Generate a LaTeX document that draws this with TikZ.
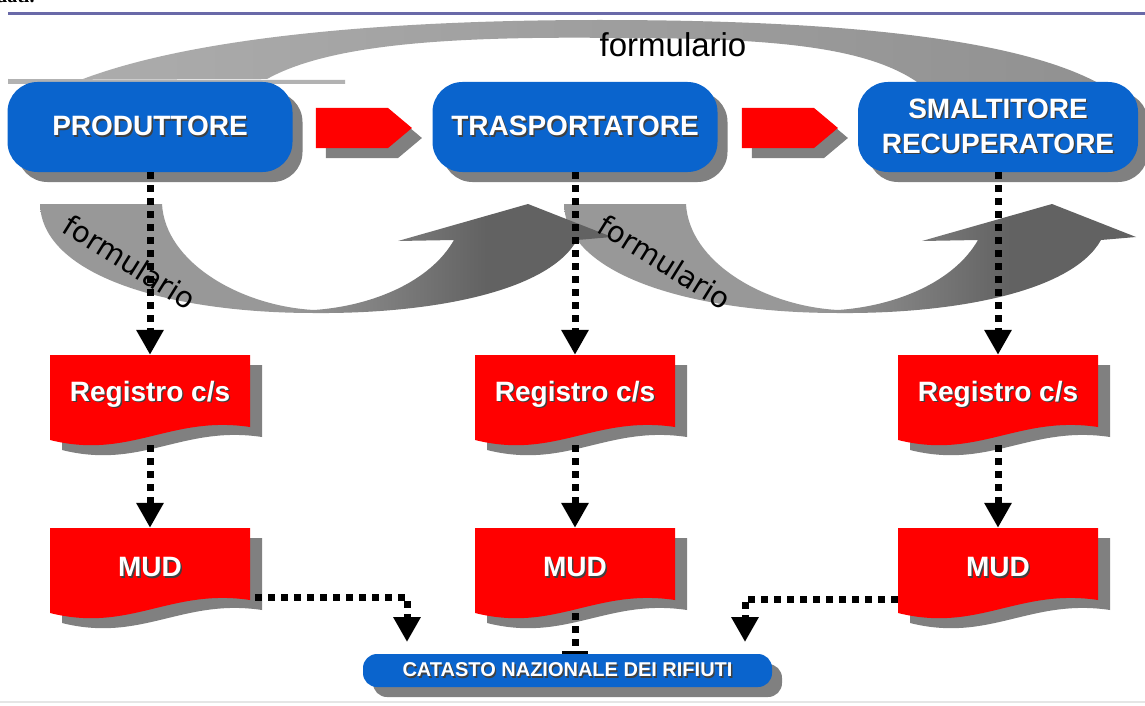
\documentclass[tikz,border=0pt]{standalone}
\usepackage{fontspec}
\setmainfont{Liberation Sans}
\newfontfamily\serifdati{Liberation Serif}
\newfontfamily\dejavu{DejaVu Sans}
\usetikzlibrary{arrows.meta,shadows,calc,shapes.symbols}
\definecolor{boxblue}{RGB}{10,100,205}
\definecolor{shgray}{RGB}{128,128,128}
\definecolor{rulecol}{RGB}{105,105,168}
\definecolor{arcL}{RGB}{172,172,172}
\definecolor{arcR}{RGB}{145,145,145}
\definecolor{uL}{RGB}{152,152,152}
\definecolor{uR}{RGB}{98,98,98}
\pgfdeclarehorizontalshading{ushade}{100bp}{color(0bp)=(uL); color(47bp)=(uL); color(64bp)=(uR); color(100bp)=(uR)}
\newcommand\shtx[1]{\leavevmode\rlap{\hspace{1.4pt}\raisebox{-1.4pt}{\textcolor{black!75}{#1}}}#1}
\tikzset{
  mysh/.style={drop shadow={shadow xshift=10pt, shadow yshift=-10pt, fill=shgray, opacity=1}},
  bluebox/.style={rounded corners=30pt, fill=boxblue, minimum width=285pt, minimum height=90pt,
    inner sep=0pt, text=white, font=\fontsize{28}{35}\selectfont\bfseries, align=center, mysh},
  catbox/.style={rounded corners=14pt, fill=boxblue, minimum width=409pt, minimum height=33pt,
    inner sep=0pt, text=white, font=\fontsize{20}{22}\selectfont\bfseries, mysh},
  redarrow/.style={signal, signal to=east, signal pointer angle=80, fill=red, minimum width=96pt,
    minimum height=40pt, inner sep=0pt, mysh},
  doctext/.style={minimum width=200pt, minimum height=80pt, inner sep=0pt, text=white,
    font=\fontsize{28}{30}\selectfont\bfseries},
  dotline/.style={line width=7pt, dash pattern=on 7pt off 6pt},
  dotarrow/.style={dotline, -{Triangle[width=26pt,length=25pt]}},
  formlab/.style={font=\dejavu\fontsize{29}{29}\selectfont, inner sep=0pt}
}
\newcommand\docu[4]{%
  \begin{scope}[shift={(#2,#3)}]
    \fill[shgray] (12,10) -- (212,10) -- (212,82) .. controls (132,70) and (92,115) .. (12,95) -- cycle;
    \fill[red] (0,0) -- (200,0) -- (200,72) .. controls (120,60) and (80,105) .. (0,85) -- cycle;
    \node[doctext] (#1) at (100,40) {\shtx{#4}};
  \end{scope}}
\newcommand\uarrow[1]{%
  \begin{scope}[xshift=#1]
    \shade[shading=ushade] (40,204) -- (162,204) .. controls (165,262) and (240,306) .. (314,310)
      .. controls (372,306) and (430,282) .. (454,240) -- (398,241) -- (528,204) -- (612,237)
      -- (577,240) .. controls (548,292) and (430,314) .. (314,313)
      .. controls (170,313) and (42,276) .. (40,204) -- cycle;
  \end{scope}}
\begin{document}
\begin{tikzpicture}[x=1pt,y=-1pt]
\useasboundingbox (0,0) rectangle (1145,706);
\fill[white] (0,0) rectangle (1145,706);
% header fragment and rule
\node[anchor=base west, inner sep=0pt, font=\serifdati\bfseries\fontsize{20}{20}\selectfont] (dati) at (-4,3) {dati.};
\draw[rulecol, line width=3pt] (8,14) -- (1145,14);
\draw[gray!20, line width=2pt] (0,702) -- (1145,702);
% top arc
\fill[gray!60] (8,79) -- (345,80) -- (345,84) -- (8,84) -- cycle;
\shade[left color=arcL, right color=arcR] (83,79) .. controls (200,35) and (400,20) .. (600,20)
  .. controls (850,20) and (1020,40) .. (1100,84) -- (920,84)
  .. controls (870,48) and (780,38) .. (620,38) .. controls (450,36) and (330,44) .. (267,79) -- cycle;
\node[font=\fontsize{33}{33}\selectfont, inner sep=0pt, anchor=base] (ftop) at (673,57) {formulario};
% U-shaped arrows
\uarrow{524}
\uarrow{0}
\node[formlab, rotate=-32] (f1) at (130,262) {formulario};
\node[formlab, rotate=-32] (f2) at (665,262) {formulario};
% main boxes
\node[bluebox] (prod) at (150,127) {\shtx{PRODUTTORE}};
\node[bluebox] (tras) at (575,127) {\shtx{TRASPORTATORE}};
\node[bluebox, minimum width=280pt] (smal) at (998,127) {\shtx{SMALTITORE}\\\shtx{RECUPERATORE}};
\node[redarrow] (r1) at (352,128) {};
\node[redarrow] (r2) at (778,128) {};
% documents
\docu{reg1}{50}{355}{Registro c/s}
\docu{reg2}{475}{355}{Registro c/s}
\docu{reg3}{898}{355}{Registro c/s}
\docu{mud1}{50}{528}{MUD}
\docu{mud2}{475}{528}{MUD}
\docu{mud3}{898}{528}{MUD}
\node[catbox] (cat) at (567.5,670.5) {\shtx{CATASTO NAZIONALE DEI RIFIUTI}};
% connectors
\draw[dotarrow] (prod) -- (reg1);
\draw[dotarrow] (tras) -- (reg2);
\draw[dotarrow] (smal) -- (reg3);
\draw[dotarrow] ([yshift=-10pt]reg1.south) -- (mud1.north);
\draw[dotarrow] ([yshift=-10pt]reg2.south) -- (mud2.north);
\draw[dotarrow] ([yshift=-10pt]reg3.south) -- (mud3.north);
\coordinate (c1) at (407,642);
\coordinate (c3) at (745,642);
\draw[dotarrow] ([shift={(5pt,-29pt)}]mud1.east) -| (c1);
\draw[dotarrow] ([yshift=-31pt]mud3.west) -| (c3);
\draw[dotline, -{Bar[width=26pt,line width=3pt]}] ([yshift=-5pt]mud2.south) -- (cat.north -| mud2.south);
\end{tikzpicture}
\end{document}
